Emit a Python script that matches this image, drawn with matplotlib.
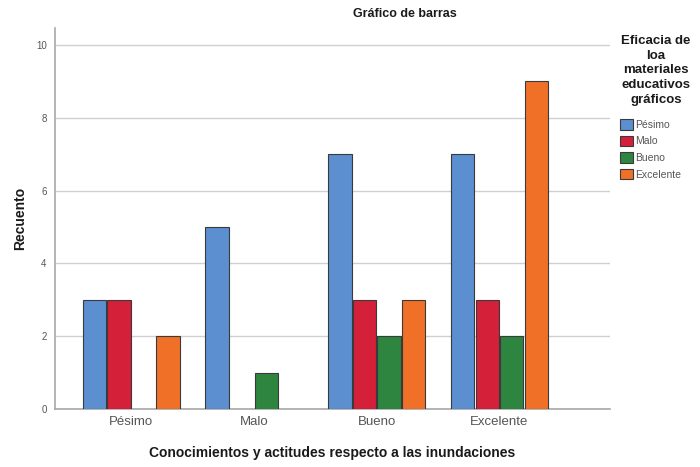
import matplotlib
matplotlib.use("Agg")
import matplotlib.pyplot as plt
import numpy as np

plt.rcParams['font.family'] = ['Liberation Sans', 'DejaVu Sans']

categories = ["Pésimo", "Malo", "Bueno", "Excelente"]
series_names = ["Pésimo", "Malo", "Bueno", "Excelente"]
s_pesimo = [3, 5, 7, 7]
s_malo = [3, 0, 3, 3]
s_bueno = [0, 1, 2, 2]
s_excelente = [2, 0, 3, 9]
yticks = [0, 2, 4, 6, 8, 10]

series = [s_pesimo, s_malo, s_bueno, s_excelente]
colors = ["#5b8fd0", "#d42038", "#2e8540", "#f07028"]

fig = plt.figure(figsize=(7, 4.67), dpi=100)
L, R, B, T = 55, 610, 409, 28
ax = fig.add_axes([L/700, 1 - B/467, (R-L)/700, (B-T)/467])

x = np.arange(len(categories))
slot = 0.2
width = 0.19
for i, (vals, c, name) in enumerate(zip(series, colors, series_names)):
    h = [v if v > 0 else np.nan for v in vals]
    ax.bar(x + (i - 1.5) * slot, h, width=width, color=c, edgecolor="#3a3a3a",
           linewidth=0.8, label=name, zorder=3)

ax.set_xlim(-0.62, 3.90)
ax.set_ylim(0, 10.47)
ax.set_yticks(yticks)
ax.set_yticklabels([str(t) for t in yticks], fontsize=7, color="#555555")
ax.set_xticks(x)
ax.set_xticklabels(categories, fontsize=9.5, color="#555555")
ax.tick_params(axis="both", length=0)
ax.tick_params(axis="y", pad=6)
ax.tick_params(axis="x", pad=5)
ax.yaxis.grid(True, color="#d0d0d0", linewidth=1.0, zorder=0)
ax.set_axisbelow(True)
for s in ["top", "right"]:
    ax.spines[s].set_visible(False)
for s in ["left", "bottom"]:
    ax.spines[s].set_color("#a8a8a8")
    ax.spines[s].set_linewidth(1.2)

ax.set_ylabel("Recuento", fontsize=10, fontweight="bold", color="#1a1a1a", labelpad=6)
ax.set_xlabel("Conocimientos y actitudes respecto a las inundaciones", fontsize=10,
              fontweight="bold", color="#1a1a1a", labelpad=13)

fig.text(405/700, 1 - 14/467, "Gráfico de barras", ha="center", va="center",
         fontsize=9, fontweight="bold", color="#1a1a1a")

fig.text(656/700, 1 - 35/467, "Eficacia de\nloa\nmateriales\neducativos\ngráficos",
         ha="center", va="top", fontsize=9.5, fontweight="bold", color="#1a1a1a",
         linespacing=1.3)

handles, labels = ax.get_legend_handles_labels()
leg = fig.legend(handles, labels, loc="upper left", bbox_to_anchor=(620/700, 1 - 119/467),
                 frameon=False, fontsize=7.5, handlelength=1.2, handleheight=1.2,
                 handletextpad=0.3, labelspacing=0.55, borderpad=0, borderaxespad=0)
for t in leg.get_texts():
    t.set_color("#555555")

fig.savefig("out.png", dpi=100)
